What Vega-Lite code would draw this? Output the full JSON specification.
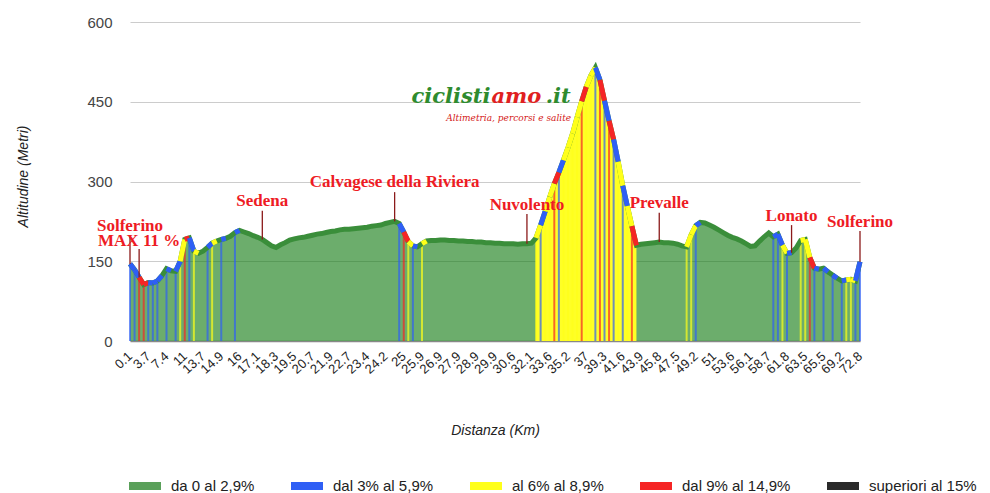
{
  "$schema": "https://vega.github.io/schema/vega-lite/v6.json",
  "width": 730,
  "height": 319,
  "autosize": "none",
  "padding": {"left": 130, "top": 22, "right": 130, "bottom": 152},
  "background": "white",
  "config": {"view": {"stroke": null}, "font": "Liberation Sans"},
  "datasets": {
    "p": [
      {"km": 0.1, "alt": 145, "c": "b"}, {"km": 1.0, "alt": 134, "c": "b"}, {"km": 1.9, "alt": 120, "c": "r"}, {"km": 2.8, "alt": 106, "c": "r"},
      {"km": 3.7, "alt": 110, "c": "b"}, {"km": 4.63, "alt": 109, "c": "b"}, {"km": 5.55, "alt": 113, "c": "b"}, {"km": 6.48, "alt": 123, "c": "g"},
      {"km": 7.4, "alt": 136, "c": "b"}, {"km": 8.3, "alt": 132, "c": "g"}, {"km": 9.2, "alt": 131, "c": "b"}, {"km": 10.1, "alt": 150, "c": "y"},
      {"km": 11, "alt": 191, "c": "r"}, {"km": 11.68, "alt": 194, "c": "b"}, {"km": 12.35, "alt": 169, "c": "y"}, {"km": 13.03, "alt": 165, "c": "g"},
      {"km": 13.7, "alt": 169, "c": "g"}, {"km": 14.0, "alt": 176, "c": "b"}, {"km": 14.3, "alt": 184, "c": "y"}, {"km": 14.6, "alt": 188, "c": "g"},
      {"km": 14.9, "alt": 191, "c": "b"}, {"km": 15.18, "alt": 193, "c": "g"}, {"km": 15.45, "alt": 197, "c": "g"}, {"km": 15.73, "alt": 204, "c": "b"},
      {"km": 16, "alt": 208, "c": "g"}, {"km": 16.28, "alt": 205, "c": "g"}, {"km": 16.55, "alt": 202, "c": "g"}, {"km": 16.83, "alt": 198, "c": "g"},
      {"km": 17.1, "alt": 195, "c": "g"}, {"km": 17.4, "alt": 191, "c": "g"}, {"km": 17.7, "alt": 185, "c": "g"}, {"km": 18.0, "alt": 179, "c": "g"},
      {"km": 18.3, "alt": 176, "c": "g"}, {"km": 18.6, "alt": 181, "c": "g"}, {"km": 18.9, "alt": 185, "c": "g"}, {"km": 19.2, "alt": 190, "c": "g"},
      {"km": 19.5, "alt": 192, "c": "g"}, {"km": 19.8, "alt": 194, "c": "g"}, {"km": 20.1, "alt": 195, "c": "g"}, {"km": 20.4, "alt": 197, "c": "g"},
      {"km": 20.7, "alt": 199, "c": "g"}, {"km": 21.0, "alt": 201, "c": "g"}, {"km": 21.3, "alt": 202, "c": "g"}, {"km": 21.6, "alt": 204, "c": "g"},
      {"km": 21.9, "alt": 206, "c": "g"}, {"km": 22.1, "alt": 207, "c": "g"}, {"km": 22.3, "alt": 209, "c": "g"}, {"km": 22.5, "alt": 210, "c": "g"},
      {"km": 22.7, "alt": 210, "c": "g"}, {"km": 22.88, "alt": 211, "c": "g"}, {"km": 23.05, "alt": 212, "c": "g"}, {"km": 23.23, "alt": 213, "c": "g"},
      {"km": 23.4, "alt": 214, "c": "g"}, {"km": 23.6, "alt": 216, "c": "g"}, {"km": 23.8, "alt": 217, "c": "g"}, {"km": 24.0, "alt": 218, "c": "g"},
      {"km": 24.2, "alt": 221, "c": "g"}, {"km": 24.4, "alt": 223, "c": "g"}, {"km": 24.6, "alt": 225, "c": "g"}, {"km": 24.8, "alt": 221, "c": "b"},
      {"km": 25, "alt": 205, "c": "r"}, {"km": 25.23, "alt": 187, "c": "y"}, {"km": 25.45, "alt": 179, "c": "b"}, {"km": 25.68, "alt": 177, "c": "g"},
      {"km": 25.9, "alt": 183, "c": "y"}, {"km": 26.15, "alt": 188, "c": "g"}, {"km": 26.4, "alt": 189, "c": "g"}, {"km": 26.65, "alt": 189, "c": "g"},
      {"km": 26.9, "alt": 190, "c": "g"}, {"km": 27.15, "alt": 190, "c": "g"}, {"km": 27.4, "alt": 189, "c": "g"}, {"km": 27.65, "alt": 189, "c": "g"},
      {"km": 27.9, "alt": 188, "c": "g"}, {"km": 28.15, "alt": 188, "c": "g"}, {"km": 28.4, "alt": 187, "c": "g"}, {"km": 28.65, "alt": 187, "c": "g"},
      {"km": 28.9, "alt": 186, "c": "g"}, {"km": 29.15, "alt": 186, "c": "g"}, {"km": 29.4, "alt": 185, "c": "g"}, {"km": 29.65, "alt": 185, "c": "g"},
      {"km": 29.9, "alt": 184, "c": "g"}, {"km": 30.08, "alt": 184, "c": "g"}, {"km": 30.25, "alt": 183, "c": "g"}, {"km": 30.43, "alt": 183, "c": "g"},
      {"km": 30.6, "alt": 183, "c": "g"}, {"km": 30.98, "alt": 182, "c": "g"}, {"km": 31.35, "alt": 183, "c": "g"}, {"km": 31.73, "alt": 183, "c": "g"},
      {"km": 32.1, "alt": 184, "c": "g"}, {"km": 32.48, "alt": 194, "c": "y"}, {"km": 32.85, "alt": 218, "c": "b"}, {"km": 33.23, "alt": 244, "c": "y"},
      {"km": 33.6, "alt": 271, "c": "y"}, {"km": 34.0, "alt": 296, "c": "r"}, {"km": 34.4, "alt": 317, "c": "b"}, {"km": 34.8, "alt": 340, "c": "y"},
      {"km": 35.2, "alt": 364, "c": "y"}, {"km": 35.65, "alt": 390, "c": "y"}, {"km": 36.1, "alt": 421, "c": "y"}, {"km": 36.55, "alt": 451, "c": "r"},
      {"km": 37, "alt": 478, "c": "y"}, {"km": 37.58, "alt": 499, "c": "y"}, {"km": 38.15, "alt": 514, "c": "b"}, {"km": 38.73, "alt": 491, "c": "r"},
      {"km": 39.3, "alt": 452, "c": "b"}, {"km": 39.88, "alt": 414, "c": "r"}, {"km": 40.45, "alt": 379, "c": "b"}, {"km": 41.03, "alt": 337, "c": "y"},
      {"km": 41.6, "alt": 292, "c": "b"}, {"km": 42.18, "alt": 254, "c": "y"}, {"km": 42.75, "alt": 216, "c": "r"}, {"km": 43.33, "alt": 180, "c": "g"},
      {"km": 43.9, "alt": 182, "c": "g"}, {"km": 44.38, "alt": 183, "c": "g"}, {"km": 44.85, "alt": 184, "c": "g"}, {"km": 45.33, "alt": 185, "c": "g"},
      {"km": 45.8, "alt": 186, "c": "g"}, {"km": 46.23, "alt": 185, "c": "g"}, {"km": 46.65, "alt": 185, "c": "g"}, {"km": 47.08, "alt": 184, "c": "g"},
      {"km": 47.5, "alt": 182, "c": "g"}, {"km": 47.93, "alt": 179, "c": "g"}, {"km": 48.35, "alt": 177, "c": "y"}, {"km": 48.78, "alt": 200, "c": "y"},
      {"km": 49.2, "alt": 217, "c": "b"}, {"km": 49.65, "alt": 223, "c": "g"}, {"km": 50.1, "alt": 222, "c": "g"}, {"km": 50.55, "alt": 218, "c": "g"},
      {"km": 51, "alt": 214, "c": "g"}, {"km": 51.65, "alt": 209, "c": "g"}, {"km": 52.3, "alt": 204, "c": "g"}, {"km": 52.95, "alt": 199, "c": "g"},
      {"km": 53.6, "alt": 195, "c": "g"}, {"km": 54.23, "alt": 192, "c": "g"}, {"km": 54.85, "alt": 188, "c": "g"}, {"km": 55.48, "alt": 183, "c": "g"},
      {"km": 56.1, "alt": 178, "c": "g"}, {"km": 56.75, "alt": 179, "c": "g"}, {"km": 57.4, "alt": 188, "c": "g"}, {"km": 58.05, "alt": 196, "c": "g"},
      {"km": 58.7, "alt": 203, "c": "g"}, {"km": 59.48, "alt": 196, "c": "b"}, {"km": 60.25, "alt": 201, "c": "b"}, {"km": 61.03, "alt": 180, "c": "y"},
      {"km": 61.8, "alt": 165, "c": "b"}, {"km": 62.23, "alt": 166, "c": "g"}, {"km": 62.65, "alt": 175, "c": "g"}, {"km": 63.08, "alt": 189, "c": "y"},
      {"km": 63.5, "alt": 191, "c": "y"}, {"km": 64.0, "alt": 157, "c": "r"}, {"km": 64.5, "alt": 137, "c": "b"}, {"km": 65.0, "alt": 135, "c": "g"},
      {"km": 65.5, "alt": 137, "c": "b"}, {"km": 66.43, "alt": 130, "c": "g"}, {"km": 67.35, "alt": 124, "c": "b"}, {"km": 68.28, "alt": 118, "c": "g"},
      {"km": 69.2, "alt": 113, "c": "b"}, {"km": 70.1, "alt": 115, "c": "y"}, {"km": 71.0, "alt": 116, "c": "y"}, {"km": 71.9, "alt": 113, "c": "b"},
      {"km": 72.8, "alt": 149, "c": "b"}
    ],
    "ann": [
      {"km": 0.1, "name": "Solferino", "h": 207, "top": 196, "alt": 145},
      {"km": 1.9, "name": "MAX 11 %", "h": 179, "top": 173, "alt": 120},
      {"km": 17.4, "name": "Sedena", "h": 254, "top": 245, "alt": 191},
      {"km": 24.6, "name": "Calvagese della Riviera", "h": 290, "top": 280, "alt": 225},
      {"km": 31.73, "name": "Nuvolento", "h": 246, "top": 239, "alt": 183},
      {"km": 45.8, "name": "Prevalle", "h": 250, "top": 241, "alt": 186},
      {"km": 62.23, "name": "Lonato", "h": 226, "top": 218, "alt": 166},
      {"km": 72.8, "name": "Solferino", "h": 214, "top": 207, "alt": 149}
    ],
    "logo": [
      {"km": 29.65, "h": 448, "t": "ciclisti", "part": "a"},
      {"km": 29.65, "h": 448, "t": "amo", "part": "b"},
      {"km": 32.85, "h": 448, "t": ".it", "part": "c"},
      {"km": 30.43, "h": 414, "t": "Altimetria, percorsi e salite", "part": "d"}
    ]
  },
  "layer": [
    {
      "data": {"name": "p"},
      "mark": {"type": "area", "color": "#117a11", "opacity": 0.62},
      "encoding": {
        "x": {"field": "km", "type": "ordinal", "title": "Distanza (Km)", "scale": {"type": "point", "padding": 0},
          "axis": {"values": [0.1, 3.7, 7.4, 11, 13.7, 14.9, 16, 17.1, 18.3, 19.5, 20.7, 21.9, 22.7, 23.4, 24.2, 25, 25.9, 26.9, 27.9, 28.9, 29.9, 30.6, 32.1, 33.6, 35.2, 37, 39.3, 41.6, 43.9, 45.8, 47.5, 49.2, 51, 53.6, 56.1, 58.7, 61.8, 63.5, 65.5, 69.2, 72.8],
            "labelAngle": -42, "labelAlign": "right", "labelBaseline": "middle", "labelPadding": 13, "labelFontSize": 13, "labelColor": "#222",
            "labelOverlap": false, "labelBound": false, "ticks": false, "domainColor": "#888", "domainWidth": 1.5,
            "titleFontStyle": "italic", "titleFontWeight": "normal", "titleFontSize": 14, "titleColor": "#222", "titleY": 89, "titleBaseline": "middle"}},
        "y": {"field": "alt", "type": "quantitative", "title": "Altitudine (Metri)", "scale": {"domain": [0, 600], "nice": false},
          "axis": {"values": [0, 150, 300, 450, 600], "grid": true, "gridColor": "#cccccc", "domain": false, "ticks": false,
            "labelPadding": 18, "labelFontSize": 15, "labelColor": "#444",
            "titleFontStyle": "italic", "titleFontWeight": "normal", "titleFontSize": 14, "titleColor": "#222",
            "titleX": -107, "titleY": 154, "titleAlign": "center", "titleBaseline": "middle"}}
      }
    },
    {
      "data": {"name": "p"},
      "transform": [{"filter": "datum.km >= 32.48 && datum.km <= 43.33"}],
      "mark": {"type": "area", "color": "#ffff26", "opacity": 1},
      "encoding": {
        "x": {"field": "km", "type": "ordinal", "title": "Distanza (Km)"},
        "y": {"field": "alt", "type": "quantitative", "title": "Altitudine (Metri)"}
      }
    },
    {
      "data": {"name": "p"},
      "transform": [{"filter": "datum.c != 'g'"}],
      "mark": {"type": "rule", "strokeWidth": 2, "opacity": 0.7},
      "encoding": {
        "x": {"field": "km", "type": "ordinal", "title": "Distanza (Km)"},
        "y": {"field": "alt", "type": "quantitative", "title": "Altitudine (Metri)"},
        "y2": {"datum": 0},
        "color": {"field": "c", "type": "nominal",
          "scale": {"domain": ["g", "b", "y", "r", "k"], "range": ["#5aa05a", "#2f5ff5", "#ffff1a", "#f52525", "#2a2a2a"]},
          "legend": {"orient": "none", "legendX": -5, "legendY": 444, "direction": "horizontal", "columns": 5, "columnPadding": 20,
            "title": null, "symbolType": "stroke", "symbolSize": 1024, "symbolStrokeWidth": 8, "symbolOpacity": 1,
            "labelFontSize": 15, "labelColor": "#222", "labelOffset": 6, "labelLimit": 200,
            "labelExpr": "datum.label == 'g' ? 'da 0 al 2,9%' : datum.label == 'b' ? 'dal 3% al 5,9%' : datum.label == 'y' ? 'al 6% al 8,9%' : datum.label == 'r' ? 'dal 9% al 14,9%' : 'superiori al 15%'"}}
      }
    },
    {
      "data": {"name": "p"},
      "mark": {"type": "line", "color": "#3a8e3a", "strokeWidth": 5},
      "encoding": {
        "x": {"field": "km", "type": "ordinal", "title": "Distanza (Km)"},
        "y": {"field": "alt", "type": "quantitative", "title": "Altitudine (Metri)"}
      }
    },
    {
      "data": {"name": "p"},
      "transform": [
        {"window": [{"op": "lead", "field": "km", "as": "km2"}, {"op": "lead", "field": "alt", "as": "alt2"}]},
        {"filter": "datum.c != 'g' && datum.km2 != null"}
      ],
      "mark": {"type": "rule", "strokeWidth": 5, "strokeCap": "butt"},
      "encoding": {
        "x": {"field": "km", "type": "ordinal", "title": "Distanza (Km)"},
        "x2": {"field": "km2"},
        "y": {"field": "alt", "type": "quantitative", "title": "Altitudine (Metri)"},
        "y2": {"field": "alt2"},
        "color": {"field": "c", "type": "nominal", "legend": null}
      }
    },
    {
      "data": {"name": "ann"},
      "mark": {"type": "rule", "color": "#8b1a1a", "strokeWidth": 1.3},
      "encoding": {
        "x": {"field": "km", "type": "ordinal", "title": "Distanza (Km)"},
        "y": {"field": "top", "type": "quantitative", "title": "Altitudine (Metri)"},
        "y2": {"field": "alt"}
      }
    },
    {
      "data": {"name": "ann"},
      "mark": {"type": "text", "font": "Liberation Serif", "fontWeight": "bold", "fontSize": 17, "color": "#ee1b24", "align": "center", "baseline": "alphabetic"},
      "encoding": {
        "x": {"field": "km", "type": "ordinal", "title": "Distanza (Km)"},
        "y": {"field": "h", "type": "quantitative", "title": "Altitudine (Metri)"},
        "text": {"field": "name"}
      }
    },
    {
      "data": {"name": "logo"},
      "transform": [{"filter": "datum.part == 'a'"}],
      "mark": {"type": "text", "font": "DejaVu Serif", "fontStyle": "italic", "fontWeight": "bold", "fontSize": 21, "color": "#2e8b2e", "align": "right", "baseline": "alphabetic"},
      "encoding": {
        "x": {"field": "km", "type": "ordinal", "title": "Distanza (Km)"},
        "y": {"field": "h", "type": "quantitative", "title": "Altitudine (Metri)"},
        "text": {"field": "t"}
      }
    },
    {
      "data": {"name": "logo"},
      "transform": [{"filter": "datum.part == 'b'"}],
      "mark": {"type": "text", "font": "DejaVu Serif", "fontStyle": "italic", "fontWeight": "bold", "fontSize": 21, "color": "#e02020", "align": "left", "baseline": "alphabetic", "dx": 1},
      "encoding": {
        "x": {"field": "km", "type": "ordinal", "title": "Distanza (Km)"},
        "y": {"field": "h", "type": "quantitative", "title": "Altitudine (Metri)"},
        "text": {"field": "t"}
      }
    },
    {
      "data": {"name": "logo"},
      "transform": [{"filter": "datum.part == 'c'"}],
      "mark": {"type": "text", "font": "DejaVu Serif", "fontStyle": "italic", "fontWeight": "bold", "fontSize": 21, "color": "#2e8b2e", "align": "left", "baseline": "alphabetic", "dx": 5},
      "encoding": {
        "x": {"field": "km", "type": "ordinal", "title": "Distanza (Km)"},
        "y": {"field": "h", "type": "quantitative", "title": "Altitudine (Metri)"},
        "text": {"field": "t"}
      }
    },
    {
      "data": {"name": "logo"},
      "transform": [{"filter": "datum.part == 'd'"}],
      "mark": {"type": "text", "font": "DejaVu Serif", "fontStyle": "italic", "fontSize": 9, "color": "#d42020", "align": "center", "baseline": "alphabetic"},
      "encoding": {
        "x": {"field": "km", "type": "ordinal", "title": "Distanza (Km)"},
        "y": {"field": "h", "type": "quantitative", "title": "Altitudine (Metri)"},
        "text": {"field": "t"}
      }
    }
  ]
}
